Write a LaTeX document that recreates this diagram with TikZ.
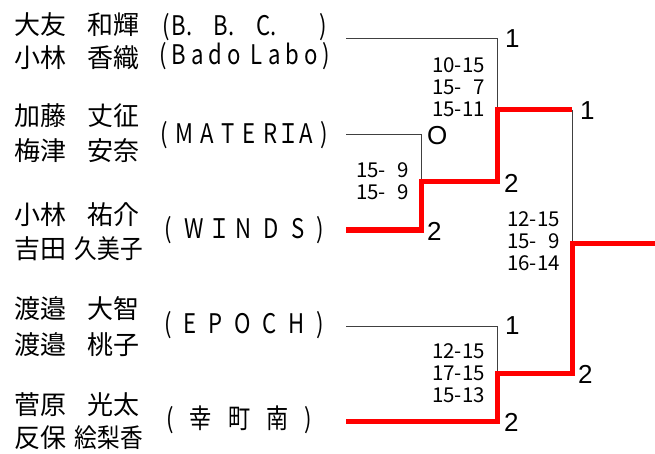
\documentclass[tikz,border=0pt]{standalone}
\usepackage{graphicx}
\usepackage{fontspec}
\setmainfont{Noto Sans CJK JP}
\newfontfamily\jpf{Noto Sans CJK JP}
\newfontfamily\teamf[FakeStretch=0.82]{Noto Sans CJK JP}
\newfontfamily\latf{Liberation Sans}
\newcommand\spr[2]{\makebox[#1][s]{#2}}
\newcommand\fwI{\makebox[7pt]{Ｉ}}
\newcommand\sq[1]{\scalebox{0.87}[1]{#1}}
\begin{document}
\begin{tikzpicture}[x=1pt,y=-1pt,
  nm/.style={inner sep=0pt, font=\jpf\fontsize{26}{26}\selectfont},
  tm/.style={inner sep=0pt, anchor=west, font=\teamf\fontsize{27}{27}\selectfont},
  sc/.style={inner sep=0pt, anchor=east, align=right, font=\jpf\fontsize{20.5}{21.7}\selectfont},
  rs/.style={inner sep=0pt, anchor=west, font=\latf\fontsize{26}{26}\selectfont},
  bline/.style={draw=black!75, line width=1pt},
  rline/.style={draw=red, line width=5pt, line join=miter}]
\useasboundingbox (0,0) rectangle (655,454);
% names
\node[nm, anchor=west] (n1a) at (14,25) {大友};
\node[nm, anchor=east] (n1b) at (140,25) {和輝};
\node[nm, anchor=west] (n2a) at (14,58) {小林};
\node[nm, anchor=east] (n2b) at (140,58) {香織};
\node[nm, anchor=west] (n3a) at (14,116) {加藤};
\node[nm, anchor=east] (n3b) at (140,116) {丈征};
\node[nm, anchor=west] (n4a) at (14,151) {梅津};
\node[nm, anchor=east] (n4b) at (140,151) {安奈};
\node[nm, anchor=west] (n5a) at (14,215) {小林};
\node[nm, anchor=east] (n5b) at (140,215) {祐介};
\node[nm, anchor=west] (n6a) at (14,249) {吉田};
\node[nm, anchor=east] (n6b) at (143,249) {\sq{久美子}};
\node[nm, anchor=west] (n7a) at (14,309) {渡邉};
\node[nm, anchor=east] (n7b) at (140,309) {大智};
\node[nm, anchor=west] (n8a) at (14,345) {渡邉};
\node[nm, anchor=east] (n8b) at (140,345) {桃子};
\node[nm, anchor=west] (n9a) at (14,405) {菅原};
\node[nm, anchor=east] (n9b) at (140,405) {光太};
\node[nm, anchor=west] (n10a) at (14,438) {反保};
\node[nm, anchor=east] (n10b) at (143,438) {\sq{絵梨香}};
% teams
\node[tm] (t1) at (162,27) {\spr{165pt}{(\hspace{2pt}B.\hfill B.\hfill C.\hfill\hfill )}};
\node[tm] (t2) at (159,56) {\spr{171pt}{(\hfill B\hfill a\hfill d\hfill o\hfill\hfill L\hfill a\hfill b\hfill o\hfill )}};
\node[tm] (t3) at (160,135) {\spr{168pt}{(\hfill M\hfill A\hfill T\hfill E\hfill R\hfill \fwI\hfill A\hfill )}};
\node[tm] (t4) at (164,230) {\spr{160pt}{(\hfill W\hfill \fwI\hfill N\hfill D\hfill S\hfill )}};
\node[tm] (t5) at (164,325) {\spr{160pt}{(\hfill E\hfill P\hfill O\hfill C\hfill H\hfill )}};
\node[tm] (t6) at (166,420) {\spr{146pt}{(\hfill 幸\hfill 町\hfill 南\hfill )}};
% scores
\node[sc] (s1) at (485,87) {10-15\\15-\phantom{1}7\\15-11};
\node[sc] (s2) at (409,181) {15-\phantom{1}9\\15-\phantom{1}9};
\node[sc] (s3) at (560,241) {12-15\\15-\phantom{1}9\\16-14};
\node[sc] (s4) at (485,373) {12-15\\17-15\\15-13};
% results
\node[rs] (r1n) at (505,39) {1};
\node[rs] (r2n) at (427,136) {O};
\node[rs] (r3n) at (504,183) {2};
\node[rs] (r4n) at (427,231) {2};
\node[rs] (r5n) at (580,111) {1};
\node[rs] (r6n) at (505,326) {1};
\node[rs] (r7n) at (578,374) {2};
\node[rs] (r8n) at (504,422) {2};
% bracket points
\coordinate (p1) at (346,39);  \coordinate (r0) at (497,39);
\coordinate (p2) at (346,135); \coordinate (q1) at (421,135);
\coordinate (p3) at (346,230); \coordinate (q3) at (421,230);
\coordinate (q2) at (421,182); \coordinate (r2) at (497,182);
\coordinate (r1) at (497,110); \coordinate (f1) at (572,110);
\coordinate (fm) at (572,243); \coordinate (fe) at (655,243);
\coordinate (p4) at (346,326); \coordinate (r3) at (497,326);
\coordinate (r4) at (497,373); \coordinate (f2) at (572,373);
\coordinate (p5) at (346,421); \coordinate (r5) at (497,421);
\draw[bline] (p1) -- (r0) -- (r1);
\draw[bline] (p2) -- (q1) -- (q2);
\draw[bline] (p4) -- (r3) -- (r4);
\draw[bline] (f1) -- (fm);
\draw[rline] (p3) -- (q3) -- (q2) -- (r2) -- (r1) -- (f1);
\draw[rline] (p5) -- (r5) -- (r4) -- (f2) -- (fm) -- (fe);
\end{tikzpicture}
\end{document}
